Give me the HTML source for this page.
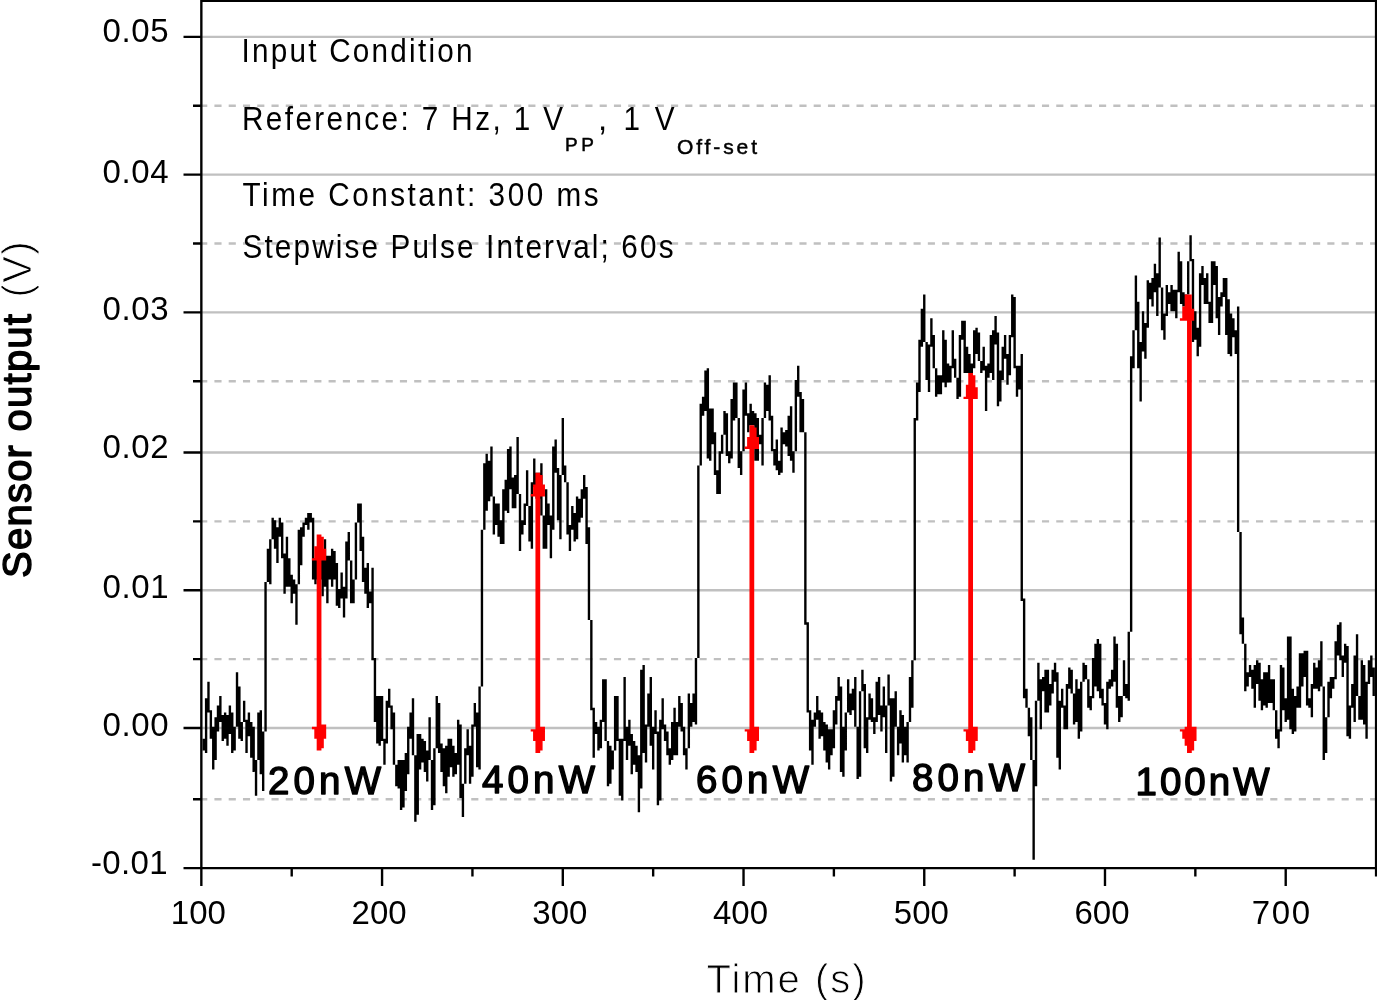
<!DOCTYPE html>
<html lang="en"><head><meta charset="utf-8"><title>Sensor output vs time</title>
<style>html,body{margin:0;padding:0;background:#fff}body{width:1377px;height:1000px;overflow:hidden}svg{display:block}text{font-family:"Liberation Sans",Arial,sans-serif;fill:#000}.b{stroke:#000;stroke-width:1.4px;stroke-linejoin:round}.t{stroke:#fff;stroke-width:.9px}.s{stroke:#000;stroke-width:.5px}</style>
</head><body>
<svg width="1377" height="1000" viewBox="0 0 1377 1000">
<rect width="1377" height="1000" fill="#fff"/>
<path fill="#c0c0c0" d="M200.16 35.63H1377.27V38.0H200.16ZM200.16 173.4H1377.27V175.77H200.16ZM200.16 311.16H1377.27V313.54H200.16ZM200.16 451.31H1377.27V453.68H200.16ZM200.16 589.07H1377.27V591.45H200.16ZM200.16 726.84H1377.27V729.22H200.16ZM200.16 104.51H207.29V106.89H200.16ZM214.42 104.51H221.56V106.89H214.42ZM228.69 104.51H235.83V106.89H228.69ZM242.96 104.51H250.09V106.89H242.96ZM257.23 104.51H264.36V106.89H257.23ZM271.5 104.51H278.63V106.89H271.5ZM285.76 104.51H292.9V106.89H285.76ZM300.03 104.51H307.17V106.89H300.03ZM314.3 104.51H321.43V106.89H314.3ZM328.57 104.51H335.7V106.89H328.57ZM342.84 104.51H349.97V106.89H342.84ZM357.1 104.51H364.24V106.89H357.1ZM371.37 104.51H378.51V106.89H371.37ZM385.64 104.51H392.77V106.89H385.64ZM399.91 104.51H407.04V106.89H399.91ZM414.18 104.51H421.31V106.89H414.18ZM428.44 104.51H435.58V106.89H428.44ZM442.71 104.51H449.85V106.89H442.71ZM456.98 104.51H464.11V106.89H456.98ZM471.25 104.51H478.38V106.89H471.25ZM485.52 104.51H492.65V106.89H485.52ZM499.78 104.51H506.92V106.89H499.78ZM514.05 104.51H521.19V106.89H514.05ZM528.32 104.51H535.45V106.89H528.32ZM542.59 104.51H549.72V106.89H542.59ZM556.86 104.51H563.99V106.89H556.86ZM571.12 104.51H578.26V106.89H571.12ZM585.39 104.51H592.53V106.89H585.39ZM599.66 104.51H606.79V106.89H599.66ZM613.93 104.51H621.06V106.89H613.93ZM628.2 104.51H635.33V106.89H628.2ZM642.46 104.51H649.6V106.89H642.46ZM656.73 104.51H663.87V106.89H656.73ZM671.0 104.51H678.13V106.89H671.0ZM685.27 104.51H692.4V106.89H685.27ZM699.54 104.51H706.67V106.89H699.54ZM713.8 104.51H720.94V106.89H713.8ZM728.07 104.51H735.21V106.89H728.07ZM742.34 104.51H749.47V106.89H742.34ZM756.61 104.51H763.74V106.89H756.61ZM770.88 104.51H778.01V106.89H770.88ZM785.14 104.51H792.28V106.89H785.14ZM799.41 104.51H806.55V106.89H799.41ZM813.68 104.51H820.81V106.89H813.68ZM827.95 104.51H835.08V106.89H827.95ZM842.22 104.51H849.35V106.89H842.22ZM856.48 104.51H863.62V106.89H856.48ZM870.75 104.51H877.89V106.89H870.75ZM885.02 104.51H892.15V106.89H885.02ZM899.29 104.51H906.42V106.89H899.29ZM913.56 104.51H920.69V106.89H913.56ZM927.82 104.51H934.96V106.89H927.82ZM942.09 104.51H949.23V106.89H942.09ZM956.36 104.51H963.49V106.89H956.36ZM970.63 104.51H977.76V106.89H970.63ZM984.9 104.51H992.03V106.89H984.9ZM999.16 104.51H1006.3V106.89H999.16ZM1013.43 104.51H1020.57V106.89H1013.43ZM1027.7 104.51H1034.83V106.89H1027.7ZM1041.97 104.51H1049.1V106.89H1041.97ZM1056.24 104.51H1063.37V106.89H1056.24ZM1070.5 104.51H1077.64V106.89H1070.5ZM1084.77 104.51H1091.91V106.89H1084.77ZM1099.04 104.51H1106.17V106.89H1099.04ZM1113.31 104.51H1120.44V106.89H1113.31ZM1127.58 104.51H1134.71V106.89H1127.58ZM1141.84 104.51H1148.98V106.89H1141.84ZM1156.11 104.51H1163.25V106.89H1156.11ZM1170.38 104.51H1177.51V106.89H1170.38ZM1184.65 104.51H1191.78V106.89H1184.65ZM1198.92 104.51H1206.05V106.89H1198.92ZM1213.18 104.51H1220.32V106.89H1213.18ZM1227.45 104.51H1234.59V106.89H1227.45ZM1241.72 104.51H1248.85V106.89H1241.72ZM1255.99 104.51H1263.12V106.89H1255.99ZM1270.26 104.51H1277.39V106.89H1270.26ZM1284.52 104.51H1291.66V106.89H1284.52ZM1298.79 104.51H1305.93V106.89H1298.79ZM1313.06 104.51H1320.19V106.89H1313.06ZM1327.33 104.51H1334.46V106.89H1327.33ZM1341.6 104.51H1348.73V106.89H1341.6ZM1355.86 104.51H1363.0V106.89H1355.86ZM1370.13 104.51H1377.27V106.89H1370.13ZM200.16 242.28H207.29V244.66H200.16ZM214.42 242.28H221.56V244.66H214.42ZM228.69 242.28H235.83V244.66H228.69ZM242.96 242.28H250.09V244.66H242.96ZM257.23 242.28H264.36V244.66H257.23ZM271.5 242.28H278.63V244.66H271.5ZM285.76 242.28H292.9V244.66H285.76ZM300.03 242.28H307.17V244.66H300.03ZM314.3 242.28H321.43V244.66H314.3ZM328.57 242.28H335.7V244.66H328.57ZM342.84 242.28H349.97V244.66H342.84ZM357.1 242.28H364.24V244.66H357.1ZM371.37 242.28H378.51V244.66H371.37ZM385.64 242.28H392.77V244.66H385.64ZM399.91 242.28H407.04V244.66H399.91ZM414.18 242.28H421.31V244.66H414.18ZM428.44 242.28H435.58V244.66H428.44ZM442.71 242.28H449.85V244.66H442.71ZM456.98 242.28H464.11V244.66H456.98ZM471.25 242.28H478.38V244.66H471.25ZM485.52 242.28H492.65V244.66H485.52ZM499.78 242.28H506.92V244.66H499.78ZM514.05 242.28H521.19V244.66H514.05ZM528.32 242.28H535.45V244.66H528.32ZM542.59 242.28H549.72V244.66H542.59ZM556.86 242.28H563.99V244.66H556.86ZM571.12 242.28H578.26V244.66H571.12ZM585.39 242.28H592.53V244.66H585.39ZM599.66 242.28H606.79V244.66H599.66ZM613.93 242.28H621.06V244.66H613.93ZM628.2 242.28H635.33V244.66H628.2ZM642.46 242.28H649.6V244.66H642.46ZM656.73 242.28H663.87V244.66H656.73ZM671.0 242.28H678.13V244.66H671.0ZM685.27 242.28H692.4V244.66H685.27ZM699.54 242.28H706.67V244.66H699.54ZM713.8 242.28H720.94V244.66H713.8ZM728.07 242.28H735.21V244.66H728.07ZM742.34 242.28H749.47V244.66H742.34ZM756.61 242.28H763.74V244.66H756.61ZM770.88 242.28H778.01V244.66H770.88ZM785.14 242.28H792.28V244.66H785.14ZM799.41 242.28H806.55V244.66H799.41ZM813.68 242.28H820.81V244.66H813.68ZM827.95 242.28H835.08V244.66H827.95ZM842.22 242.28H849.35V244.66H842.22ZM856.48 242.28H863.62V244.66H856.48ZM870.75 242.28H877.89V244.66H870.75ZM885.02 242.28H892.15V244.66H885.02ZM899.29 242.28H906.42V244.66H899.29ZM913.56 242.28H920.69V244.66H913.56ZM927.82 242.28H934.96V244.66H927.82ZM942.09 242.28H949.23V244.66H942.09ZM956.36 242.28H963.49V244.66H956.36ZM970.63 242.28H977.76V244.66H970.63ZM984.9 242.28H992.03V244.66H984.9ZM999.16 242.28H1006.3V244.66H999.16ZM1013.43 242.28H1020.57V244.66H1013.43ZM1027.7 242.28H1034.83V244.66H1027.7ZM1041.97 242.28H1049.1V244.66H1041.97ZM1056.24 242.28H1063.37V244.66H1056.24ZM1070.5 242.28H1077.64V244.66H1070.5ZM1084.77 242.28H1091.91V244.66H1084.77ZM1099.04 242.28H1106.17V244.66H1099.04ZM1113.31 242.28H1120.44V244.66H1113.31ZM1127.58 242.28H1134.71V244.66H1127.58ZM1141.84 242.28H1148.98V244.66H1141.84ZM1156.11 242.28H1163.25V244.66H1156.11ZM1170.38 242.28H1177.51V244.66H1170.38ZM1184.65 242.28H1191.78V244.66H1184.65ZM1198.92 242.28H1206.05V244.66H1198.92ZM1213.18 242.28H1220.32V244.66H1213.18ZM1227.45 242.28H1234.59V244.66H1227.45ZM1241.72 242.28H1248.85V244.66H1241.72ZM1255.99 242.28H1263.12V244.66H1255.99ZM1270.26 242.28H1277.39V244.66H1270.26ZM1284.52 242.28H1291.66V244.66H1284.52ZM1298.79 242.28H1305.93V244.66H1298.79ZM1313.06 242.28H1320.19V244.66H1313.06ZM1327.33 242.28H1334.46V244.66H1327.33ZM1341.6 242.28H1348.73V244.66H1341.6ZM1355.86 242.28H1363.0V244.66H1355.86ZM1370.13 242.28H1377.27V244.66H1370.13ZM200.16 380.05H207.29V382.42H200.16ZM214.42 380.05H221.56V382.42H214.42ZM228.69 380.05H235.83V382.42H228.69ZM242.96 380.05H250.09V382.42H242.96ZM257.23 380.05H264.36V382.42H257.23ZM271.5 380.05H278.63V382.42H271.5ZM285.76 380.05H292.9V382.42H285.76ZM300.03 380.05H307.17V382.42H300.03ZM314.3 380.05H321.43V382.42H314.3ZM328.57 380.05H335.7V382.42H328.57ZM342.84 380.05H349.97V382.42H342.84ZM357.1 380.05H364.24V382.42H357.1ZM371.37 380.05H378.51V382.42H371.37ZM385.64 380.05H392.77V382.42H385.64ZM399.91 380.05H407.04V382.42H399.91ZM414.18 380.05H421.31V382.42H414.18ZM428.44 380.05H435.58V382.42H428.44ZM442.71 380.05H449.85V382.42H442.71ZM456.98 380.05H464.11V382.42H456.98ZM471.25 380.05H478.38V382.42H471.25ZM485.52 380.05H492.65V382.42H485.52ZM499.78 380.05H506.92V382.42H499.78ZM514.05 380.05H521.19V382.42H514.05ZM528.32 380.05H535.45V382.42H528.32ZM542.59 380.05H549.72V382.42H542.59ZM556.86 380.05H563.99V382.42H556.86ZM571.12 380.05H578.26V382.42H571.12ZM585.39 380.05H592.53V382.42H585.39ZM599.66 380.05H606.79V382.42H599.66ZM613.93 380.05H621.06V382.42H613.93ZM628.2 380.05H635.33V382.42H628.2ZM642.46 380.05H649.6V382.42H642.46ZM656.73 380.05H663.87V382.42H656.73ZM671.0 380.05H678.13V382.42H671.0ZM685.27 380.05H692.4V382.42H685.27ZM699.54 380.05H706.67V382.42H699.54ZM713.8 380.05H720.94V382.42H713.8ZM728.07 380.05H735.21V382.42H728.07ZM742.34 380.05H749.47V382.42H742.34ZM756.61 380.05H763.74V382.42H756.61ZM770.88 380.05H778.01V382.42H770.88ZM785.14 380.05H792.28V382.42H785.14ZM799.41 380.05H806.55V382.42H799.41ZM813.68 380.05H820.81V382.42H813.68ZM827.95 380.05H835.08V382.42H827.95ZM842.22 380.05H849.35V382.42H842.22ZM856.48 380.05H863.62V382.42H856.48ZM870.75 380.05H877.89V382.42H870.75ZM885.02 380.05H892.15V382.42H885.02ZM899.29 380.05H906.42V382.42H899.29ZM913.56 380.05H920.69V382.42H913.56ZM927.82 380.05H934.96V382.42H927.82ZM942.09 380.05H949.23V382.42H942.09ZM956.36 380.05H963.49V382.42H956.36ZM970.63 380.05H977.76V382.42H970.63ZM984.9 380.05H992.03V382.42H984.9ZM999.16 380.05H1006.3V382.42H999.16ZM1013.43 380.05H1020.57V382.42H1013.43ZM1027.7 380.05H1034.83V382.42H1027.7ZM1041.97 380.05H1049.1V382.42H1041.97ZM1056.24 380.05H1063.37V382.42H1056.24ZM1070.5 380.05H1077.64V382.42H1070.5ZM1084.77 380.05H1091.91V382.42H1084.77ZM1099.04 380.05H1106.17V382.42H1099.04ZM1113.31 380.05H1120.44V382.42H1113.31ZM1127.58 380.05H1134.71V382.42H1127.58ZM1141.84 380.05H1148.98V382.42H1141.84ZM1156.11 380.05H1163.25V382.42H1156.11ZM1170.38 380.05H1177.51V382.42H1170.38ZM1184.65 380.05H1191.78V382.42H1184.65ZM1198.92 380.05H1206.05V382.42H1198.92ZM1213.18 380.05H1220.32V382.42H1213.18ZM1227.45 380.05H1234.59V382.42H1227.45ZM1241.72 380.05H1248.85V382.42H1241.72ZM1255.99 380.05H1263.12V382.42H1255.99ZM1270.26 380.05H1277.39V382.42H1270.26ZM1284.52 380.05H1291.66V382.42H1284.52ZM1298.79 380.05H1305.93V382.42H1298.79ZM1313.06 380.05H1320.19V382.42H1313.06ZM1327.33 380.05H1334.46V382.42H1327.33ZM1341.6 380.05H1348.73V382.42H1341.6ZM1355.86 380.05H1363.0V382.42H1355.86ZM1370.13 380.05H1377.27V382.42H1370.13ZM200.16 520.19H207.29V522.57H200.16ZM214.42 520.19H221.56V522.57H214.42ZM228.69 520.19H235.83V522.57H228.69ZM242.96 520.19H250.09V522.57H242.96ZM257.23 520.19H264.36V522.57H257.23ZM271.5 520.19H278.63V522.57H271.5ZM285.76 520.19H292.9V522.57H285.76ZM300.03 520.19H307.17V522.57H300.03ZM314.3 520.19H321.43V522.57H314.3ZM328.57 520.19H335.7V522.57H328.57ZM342.84 520.19H349.97V522.57H342.84ZM357.1 520.19H364.24V522.57H357.1ZM371.37 520.19H378.51V522.57H371.37ZM385.64 520.19H392.77V522.57H385.64ZM399.91 520.19H407.04V522.57H399.91ZM414.18 520.19H421.31V522.57H414.18ZM428.44 520.19H435.58V522.57H428.44ZM442.71 520.19H449.85V522.57H442.71ZM456.98 520.19H464.11V522.57H456.98ZM471.25 520.19H478.38V522.57H471.25ZM485.52 520.19H492.65V522.57H485.52ZM499.78 520.19H506.92V522.57H499.78ZM514.05 520.19H521.19V522.57H514.05ZM528.32 520.19H535.45V522.57H528.32ZM542.59 520.19H549.72V522.57H542.59ZM556.86 520.19H563.99V522.57H556.86ZM571.12 520.19H578.26V522.57H571.12ZM585.39 520.19H592.53V522.57H585.39ZM599.66 520.19H606.79V522.57H599.66ZM613.93 520.19H621.06V522.57H613.93ZM628.2 520.19H635.33V522.57H628.2ZM642.46 520.19H649.6V522.57H642.46ZM656.73 520.19H663.87V522.57H656.73ZM671.0 520.19H678.13V522.57H671.0ZM685.27 520.19H692.4V522.57H685.27ZM699.54 520.19H706.67V522.57H699.54ZM713.8 520.19H720.94V522.57H713.8ZM728.07 520.19H735.21V522.57H728.07ZM742.34 520.19H749.47V522.57H742.34ZM756.61 520.19H763.74V522.57H756.61ZM770.88 520.19H778.01V522.57H770.88ZM785.14 520.19H792.28V522.57H785.14ZM799.41 520.19H806.55V522.57H799.41ZM813.68 520.19H820.81V522.57H813.68ZM827.95 520.19H835.08V522.57H827.95ZM842.22 520.19H849.35V522.57H842.22ZM856.48 520.19H863.62V522.57H856.48ZM870.75 520.19H877.89V522.57H870.75ZM885.02 520.19H892.15V522.57H885.02ZM899.29 520.19H906.42V522.57H899.29ZM913.56 520.19H920.69V522.57H913.56ZM927.82 520.19H934.96V522.57H927.82ZM942.09 520.19H949.23V522.57H942.09ZM956.36 520.19H963.49V522.57H956.36ZM970.63 520.19H977.76V522.57H970.63ZM984.9 520.19H992.03V522.57H984.9ZM999.16 520.19H1006.3V522.57H999.16ZM1013.43 520.19H1020.57V522.57H1013.43ZM1027.7 520.19H1034.83V522.57H1027.7ZM1041.97 520.19H1049.1V522.57H1041.97ZM1056.24 520.19H1063.37V522.57H1056.24ZM1070.5 520.19H1077.64V522.57H1070.5ZM1084.77 520.19H1091.91V522.57H1084.77ZM1099.04 520.19H1106.17V522.57H1099.04ZM1113.31 520.19H1120.44V522.57H1113.31ZM1127.58 520.19H1134.71V522.57H1127.58ZM1141.84 520.19H1148.98V522.57H1141.84ZM1156.11 520.19H1163.25V522.57H1156.11ZM1170.38 520.19H1177.51V522.57H1170.38ZM1184.65 520.19H1191.78V522.57H1184.65ZM1198.92 520.19H1206.05V522.57H1198.92ZM1213.18 520.19H1220.32V522.57H1213.18ZM1227.45 520.19H1234.59V522.57H1227.45ZM1241.72 520.19H1248.85V522.57H1241.72ZM1255.99 520.19H1263.12V522.57H1255.99ZM1270.26 520.19H1277.39V522.57H1270.26ZM1284.52 520.19H1291.66V522.57H1284.52ZM1298.79 520.19H1305.93V522.57H1298.79ZM1313.06 520.19H1320.19V522.57H1313.06ZM1327.33 520.19H1334.46V522.57H1327.33ZM1341.6 520.19H1348.73V522.57H1341.6ZM1355.86 520.19H1363.0V522.57H1355.86ZM1370.13 520.19H1377.27V522.57H1370.13ZM200.16 657.96H207.29V660.33H200.16ZM214.42 657.96H221.56V660.33H214.42ZM228.69 657.96H235.83V660.33H228.69ZM242.96 657.96H250.09V660.33H242.96ZM257.23 657.96H264.36V660.33H257.23ZM271.5 657.96H278.63V660.33H271.5ZM285.76 657.96H292.9V660.33H285.76ZM300.03 657.96H307.17V660.33H300.03ZM314.3 657.96H321.43V660.33H314.3ZM328.57 657.96H335.7V660.33H328.57ZM342.84 657.96H349.97V660.33H342.84ZM357.1 657.96H364.24V660.33H357.1ZM371.37 657.96H378.51V660.33H371.37ZM385.64 657.96H392.77V660.33H385.64ZM399.91 657.96H407.04V660.33H399.91ZM414.18 657.96H421.31V660.33H414.18ZM428.44 657.96H435.58V660.33H428.44ZM442.71 657.96H449.85V660.33H442.71ZM456.98 657.96H464.11V660.33H456.98ZM471.25 657.96H478.38V660.33H471.25ZM485.52 657.96H492.65V660.33H485.52ZM499.78 657.96H506.92V660.33H499.78ZM514.05 657.96H521.19V660.33H514.05ZM528.32 657.96H535.45V660.33H528.32ZM542.59 657.96H549.72V660.33H542.59ZM556.86 657.96H563.99V660.33H556.86ZM571.12 657.96H578.26V660.33H571.12ZM585.39 657.96H592.53V660.33H585.39ZM599.66 657.96H606.79V660.33H599.66ZM613.93 657.96H621.06V660.33H613.93ZM628.2 657.96H635.33V660.33H628.2ZM642.46 657.96H649.6V660.33H642.46ZM656.73 657.96H663.87V660.33H656.73ZM671.0 657.96H678.13V660.33H671.0ZM685.27 657.96H692.4V660.33H685.27ZM699.54 657.96H706.67V660.33H699.54ZM713.8 657.96H720.94V660.33H713.8ZM728.07 657.96H735.21V660.33H728.07ZM742.34 657.96H749.47V660.33H742.34ZM756.61 657.96H763.74V660.33H756.61ZM770.88 657.96H778.01V660.33H770.88ZM785.14 657.96H792.28V660.33H785.14ZM799.41 657.96H806.55V660.33H799.41ZM813.68 657.96H820.81V660.33H813.68ZM827.95 657.96H835.08V660.33H827.95ZM842.22 657.96H849.35V660.33H842.22ZM856.48 657.96H863.62V660.33H856.48ZM870.75 657.96H877.89V660.33H870.75ZM885.02 657.96H892.15V660.33H885.02ZM899.29 657.96H906.42V660.33H899.29ZM913.56 657.96H920.69V660.33H913.56ZM927.82 657.96H934.96V660.33H927.82ZM942.09 657.96H949.23V660.33H942.09ZM956.36 657.96H963.49V660.33H956.36ZM970.63 657.96H977.76V660.33H970.63ZM984.9 657.96H992.03V660.33H984.9ZM999.16 657.96H1006.3V660.33H999.16ZM1013.43 657.96H1020.57V660.33H1013.43ZM1027.7 657.96H1034.83V660.33H1027.7ZM1041.97 657.96H1049.1V660.33H1041.97ZM1056.24 657.96H1063.37V660.33H1056.24ZM1070.5 657.96H1077.64V660.33H1070.5ZM1084.77 657.96H1091.91V660.33H1084.77ZM1099.04 657.96H1106.17V660.33H1099.04ZM1113.31 657.96H1120.44V660.33H1113.31ZM1127.58 657.96H1134.71V660.33H1127.58ZM1141.84 657.96H1148.98V660.33H1141.84ZM1156.11 657.96H1163.25V660.33H1156.11ZM1170.38 657.96H1177.51V660.33H1170.38ZM1184.65 657.96H1191.78V660.33H1184.65ZM1198.92 657.96H1206.05V660.33H1198.92ZM1213.18 657.96H1220.32V660.33H1213.18ZM1227.45 657.96H1234.59V660.33H1227.45ZM1241.72 657.96H1248.85V660.33H1241.72ZM1255.99 657.96H1263.12V660.33H1255.99ZM1270.26 657.96H1277.39V660.33H1270.26ZM1284.52 657.96H1291.66V660.33H1284.52ZM1298.79 657.96H1305.93V660.33H1298.79ZM1313.06 657.96H1320.19V660.33H1313.06ZM1327.33 657.96H1334.46V660.33H1327.33ZM1341.6 657.96H1348.73V660.33H1341.6ZM1355.86 657.96H1363.0V660.33H1355.86ZM1370.13 657.96H1377.27V660.33H1370.13ZM200.16 798.1H207.29V800.48H200.16ZM214.42 798.1H221.56V800.48H214.42ZM228.69 798.1H235.83V800.48H228.69ZM242.96 798.1H250.09V800.48H242.96ZM257.23 798.1H264.36V800.48H257.23ZM271.5 798.1H278.63V800.48H271.5ZM285.76 798.1H292.9V800.48H285.76ZM300.03 798.1H307.17V800.48H300.03ZM314.3 798.1H321.43V800.48H314.3ZM328.57 798.1H335.7V800.48H328.57ZM342.84 798.1H349.97V800.48H342.84ZM357.1 798.1H364.24V800.48H357.1ZM371.37 798.1H378.51V800.48H371.37ZM385.64 798.1H392.77V800.48H385.64ZM399.91 798.1H407.04V800.48H399.91ZM414.18 798.1H421.31V800.48H414.18ZM428.44 798.1H435.58V800.48H428.44ZM442.71 798.1H449.85V800.48H442.71ZM456.98 798.1H464.11V800.48H456.98ZM471.25 798.1H478.38V800.48H471.25ZM485.52 798.1H492.65V800.48H485.52ZM499.78 798.1H506.92V800.48H499.78ZM514.05 798.1H521.19V800.48H514.05ZM528.32 798.1H535.45V800.48H528.32ZM542.59 798.1H549.72V800.48H542.59ZM556.86 798.1H563.99V800.48H556.86ZM571.12 798.1H578.26V800.48H571.12ZM585.39 798.1H592.53V800.48H585.39ZM599.66 798.1H606.79V800.48H599.66ZM613.93 798.1H621.06V800.48H613.93ZM628.2 798.1H635.33V800.48H628.2ZM642.46 798.1H649.6V800.48H642.46ZM656.73 798.1H663.87V800.48H656.73ZM671.0 798.1H678.13V800.48H671.0ZM685.27 798.1H692.4V800.48H685.27ZM699.54 798.1H706.67V800.48H699.54ZM713.8 798.1H720.94V800.48H713.8ZM728.07 798.1H735.21V800.48H728.07ZM742.34 798.1H749.47V800.48H742.34ZM756.61 798.1H763.74V800.48H756.61ZM770.88 798.1H778.01V800.48H770.88ZM785.14 798.1H792.28V800.48H785.14ZM799.41 798.1H806.55V800.48H799.41ZM813.68 798.1H820.81V800.48H813.68ZM827.95 798.1H835.08V800.48H827.95ZM842.22 798.1H849.35V800.48H842.22ZM856.48 798.1H863.62V800.48H856.48ZM870.75 798.1H877.89V800.48H870.75ZM885.02 798.1H892.15V800.48H885.02ZM899.29 798.1H906.42V800.48H899.29ZM913.56 798.1H920.69V800.48H913.56ZM927.82 798.1H934.96V800.48H927.82ZM942.09 798.1H949.23V800.48H942.09ZM956.36 798.1H963.49V800.48H956.36ZM970.63 798.1H977.76V800.48H970.63ZM984.9 798.1H992.03V800.48H984.9ZM999.16 798.1H1006.3V800.48H999.16ZM1013.43 798.1H1020.57V800.48H1013.43ZM1027.7 798.1H1034.83V800.48H1027.7ZM1041.97 798.1H1049.1V800.48H1041.97ZM1056.24 798.1H1063.37V800.48H1056.24ZM1070.5 798.1H1077.64V800.48H1070.5ZM1084.77 798.1H1091.91V800.48H1084.77ZM1099.04 798.1H1106.17V800.48H1099.04ZM1113.31 798.1H1120.44V800.48H1113.31ZM1127.58 798.1H1134.71V800.48H1127.58ZM1141.84 798.1H1148.98V800.48H1141.84ZM1156.11 798.1H1163.25V800.48H1156.11ZM1170.38 798.1H1177.51V800.48H1170.38ZM1184.65 798.1H1191.78V800.48H1184.65ZM1198.92 798.1H1206.05V800.48H1198.92ZM1213.18 798.1H1220.32V800.48H1213.18ZM1227.45 798.1H1234.59V800.48H1227.45ZM1241.72 798.1H1248.85V800.48H1241.72ZM1255.99 798.1H1263.12V800.48H1255.99ZM1270.26 798.1H1277.39V800.48H1270.26ZM1284.52 798.1H1291.66V800.48H1284.52ZM1298.79 798.1H1305.93V800.48H1298.79ZM1313.06 798.1H1320.19V800.48H1313.06ZM1327.33 798.1H1334.46V800.48H1327.33ZM1341.6 798.1H1348.73V800.48H1341.6ZM1355.86 798.1H1363.0V800.48H1355.86ZM1370.13 798.1H1377.27V800.48H1370.13Z"/>
<path fill="#000" d="M202.53 738.72H204.91V750.59H202.53ZM204.91 698.34H207.29V752.97H204.91ZM207.29 681.71H209.67V712.59H207.29ZM209.67 710.21H212.05V738.72H209.67ZM212.05 726.84H214.42V769.6H212.05ZM214.42 717.34H216.8V760.1H214.42ZM216.8 705.46H219.18V731.59H216.8ZM219.18 695.96H221.56V722.09H219.18ZM221.56 714.97H223.94V741.09H221.56ZM223.94 712.59H226.31V738.72H223.94ZM226.31 714.97H228.69V745.84H226.31ZM228.69 705.46H231.07V733.97H228.69ZM231.07 712.59H233.45V752.97H231.07ZM233.45 726.84H235.83V750.59H233.45ZM235.83 672.21H238.2V726.84H235.83ZM238.2 686.46H240.58V738.72H238.2ZM240.58 722.09H242.96V741.09H240.58ZM242.96 700.71H245.34V722.09H242.96ZM245.34 719.72H247.72V752.97H245.34ZM247.72 712.59H250.09V736.34H247.72ZM250.09 722.09H252.47V757.72H250.09ZM252.47 726.84H254.85V771.97H252.47ZM254.85 760.1H257.23V795.73H254.85ZM257.23 712.59H259.61V760.1H257.23ZM259.61 710.21H261.98V774.35H259.61ZM261.98 731.59H264.36V790.97H261.98ZM264.36 581.95H266.74V731.59H264.36ZM266.74 548.69H269.12V581.95H266.74ZM269.12 539.19H271.5V584.32H269.12ZM271.5 517.82H273.87V539.19H271.5ZM273.87 520.19H276.25V548.69H273.87ZM276.25 527.32H278.63V562.95H276.25ZM278.63 517.82H281.01V536.82H278.63ZM281.01 522.57H283.39V558.2H281.01ZM283.39 553.44H285.76V593.83H283.39ZM285.76 536.82H288.14V586.7H285.76ZM288.14 558.2H290.52V586.7H288.14ZM290.52 574.82H292.9V603.33H290.52ZM292.9 579.57H295.28V593.83H292.9ZM295.28 584.32H297.65V624.7H295.28ZM297.65 529.69H300.03V584.32H297.65ZM300.03 527.32H302.41V565.32H300.03ZM302.41 522.57H304.79V536.82H302.41ZM304.79 517.82H307.17V524.94H304.79ZM307.17 513.06H309.54V529.69H307.17ZM309.54 513.06H311.92V522.57H309.54ZM311.92 517.82H314.3V579.57H311.92ZM314.3 558.2H316.68V584.32H314.3ZM316.68 553.44H319.06V579.57H316.68ZM319.06 553.44H321.43V579.57H319.06ZM321.43 558.2H323.81V596.2H321.43ZM323.81 539.19H326.19V586.7H323.81ZM326.19 555.82H328.57V603.33H326.19ZM328.57 555.82H330.95V579.57H328.57ZM330.95 548.69H333.32V586.7H330.95ZM333.32 551.07H335.7V579.57H333.32ZM335.7 562.95H338.08V605.7H335.7ZM338.08 589.07H340.46V608.08H338.08ZM340.46 572.45H342.84V598.58H340.46ZM342.84 586.7H345.21V617.58H342.84ZM345.21 541.57H347.59V598.58H345.21ZM347.59 532.07H349.97V560.57H347.59ZM349.97 560.57H352.35V603.33H349.97ZM352.35 579.57H354.73V603.33H352.35ZM354.73 522.57H357.1V579.57H354.73ZM357.1 503.56H359.48V522.57H357.1ZM359.48 503.56H361.86V551.07H359.48ZM361.86 536.82H364.24V581.95H361.86ZM364.24 567.7H366.62V593.83H364.24ZM366.62 562.95H368.99V608.08H366.62ZM368.99 591.45H371.37V603.33H368.99ZM371.37 567.7H373.75V660.33H371.37ZM373.75 657.96H376.13V722.09H373.75ZM376.13 695.96H378.51V743.47H376.13ZM378.51 695.96H380.88V745.84H378.51ZM380.88 695.96H383.26V741.09H380.88ZM383.26 738.72H385.64V764.85H383.26ZM385.64 700.71H388.02V743.47H385.64ZM388.02 688.84H390.4V707.84H388.02ZM390.4 705.46H392.77V729.22H390.4ZM392.77 712.59H395.15V764.85H392.77ZM395.15 764.85H397.53V786.22H395.15ZM397.53 760.1H399.91V788.6H397.53ZM399.91 760.1H402.29V809.98H399.91ZM402.29 760.1H404.66V807.6H402.29ZM404.66 752.97H407.04V790.97H404.66ZM407.04 726.84H409.42V774.35H407.04ZM409.42 712.59H411.8V738.72H409.42ZM411.8 698.34H414.18V755.35H411.8ZM414.18 755.35H416.55V821.85H414.18ZM416.55 733.97H418.93V814.73H416.55ZM418.93 733.97H421.31V769.6H418.93ZM421.31 738.72H423.69V762.47H421.31ZM423.69 741.09H426.07V771.97H423.69ZM426.07 750.59H428.44V781.47H426.07ZM428.44 717.34H430.82V760.1H428.44ZM430.82 760.1H433.2V809.98H430.82ZM433.2 748.22H435.58V805.23H433.2ZM435.58 695.96H437.96V748.22H435.58ZM437.96 703.09H440.33V752.97H437.96ZM440.33 743.47H442.71V771.97H440.33ZM442.71 748.22H445.09V786.22H442.71ZM445.09 745.84H447.47V793.35H445.09ZM447.47 738.72H449.85V776.72H447.47ZM449.85 738.72H452.22V767.22H449.85ZM452.22 745.84H454.6V776.72H452.22ZM454.6 752.97H456.98V774.35H454.6ZM456.98 719.72H459.36V764.85H456.98ZM459.36 724.47H461.74V798.1H459.36ZM461.74 783.85H464.11V817.1H461.74ZM464.11 748.22H466.49V783.85H464.11ZM466.49 729.22H468.87V755.35H466.49ZM468.87 745.84H471.25V783.85H468.87ZM471.25 724.47H473.63V776.72H471.25ZM473.63 703.09H476.0V726.84H473.63ZM476.0 712.59H478.38V767.22H476.0ZM478.38 686.46H480.76V769.6H478.38ZM480.76 529.69H483.14V686.46H480.76ZM483.14 463.18H485.52V529.69H483.14ZM485.52 453.68H487.89V510.69H485.52ZM487.89 460.81H490.27V501.19H487.89ZM490.27 446.56H492.65V496.44H490.27ZM492.65 496.44H495.03V534.44H492.65ZM495.03 503.56H497.41V524.94H495.03ZM497.41 503.56H499.78V536.82H497.41ZM499.78 520.19H502.16V543.94H499.78ZM502.16 489.31H504.54V543.94H502.16ZM504.54 479.81H506.92V510.69H504.54ZM506.92 448.93H509.3V513.06H506.92ZM509.3 446.56H511.67V489.31H509.3ZM511.67 477.44H514.05V508.31H511.67ZM514.05 475.06H516.43V508.31H514.05ZM516.43 437.06H518.81V494.06H516.43ZM518.81 494.06H521.19V551.07H518.81ZM521.19 520.19H523.56V534.44H521.19ZM523.56 503.56H525.94V524.94H523.56ZM525.94 470.31H528.32V505.94H525.94ZM528.32 505.94H530.7V541.57H528.32ZM530.7 482.19H533.08V548.69H530.7ZM533.08 458.43H535.45V486.94H533.08ZM535.45 472.68H537.83V498.81H535.45ZM537.83 472.68H540.21V498.81H537.83ZM540.21 463.18H542.59V515.44H540.21ZM542.59 515.44H544.97V548.69H542.59ZM544.97 489.31H547.34V548.69H544.97ZM547.34 503.56H549.72V524.94H547.34ZM549.72 515.44H552.1V558.2H549.72ZM552.1 446.56H554.48V529.69H552.1ZM554.48 439.43H556.86V472.68H554.48ZM556.86 467.93H559.23V520.19H556.86ZM559.23 475.06H561.61V539.19H559.23ZM561.61 418.05H563.99V475.06H561.61ZM563.99 465.56H566.37V482.19H563.99ZM566.37 482.19H568.75V534.44H566.37ZM568.75 524.94H571.12V551.07H568.75ZM571.12 505.94H573.5V529.69H571.12ZM573.5 513.06H575.88V541.57H573.5ZM575.88 496.44H578.26V539.19H575.88ZM578.26 498.81H580.64V522.57H578.26ZM580.64 489.31H583.01V517.82H580.64ZM583.01 475.06H585.39V498.81H583.01ZM585.39 486.94H587.77V543.94H585.39ZM587.77 527.32H590.15V619.95H587.77ZM590.15 619.95H592.53V710.21H590.15ZM592.53 707.84H594.9V757.72H592.53ZM594.9 722.09H597.28V733.97H594.9ZM597.28 726.84H599.66V750.59H597.28ZM599.66 719.72H602.04V748.22H599.66ZM602.04 679.34H604.42V722.09H602.04ZM604.42 679.34H606.79V741.09H604.42ZM606.79 741.09H609.17V786.22H606.79ZM609.17 745.84H611.55V783.85H609.17ZM611.55 750.59H613.93V769.6H611.55ZM613.93 695.96H616.31V750.59H613.93ZM616.31 695.96H618.68V741.09H616.31ZM618.68 738.72H621.06V795.73H618.68ZM621.06 738.72H623.44V800.48H621.06ZM623.44 676.96H625.82V741.09H623.44ZM625.82 726.84H628.2V760.1H625.82ZM628.2 719.72H630.57V745.84H628.2ZM630.57 733.97H632.95V774.35H630.57ZM632.95 741.09H635.33V764.85H632.95ZM635.33 745.84H637.71V771.97H635.33ZM637.71 755.35H640.09V812.35H637.71ZM640.09 669.83H642.46V788.6H640.09ZM642.46 665.08H644.84V752.97H642.46ZM644.84 724.47H647.22V762.47H644.84ZM647.22 693.59H649.6V726.84H647.22ZM649.6 676.96H651.98V745.84H649.6ZM651.98 726.84H654.35V769.6H651.98ZM654.35 710.21H656.73V733.97H654.35ZM656.73 731.59H659.11V805.23H656.73ZM659.11 719.72H661.49V800.48H659.11ZM661.49 698.34H663.87V729.22H661.49ZM663.87 724.47H666.24V741.09H663.87ZM666.24 731.59H668.62V755.35H666.24ZM668.62 748.22H671.0V764.85H668.62ZM671.0 722.09H673.38V760.1H671.0ZM673.38 707.84H675.76V755.35H673.38ZM675.76 722.09H678.13V755.35H675.76ZM678.13 695.96H680.51V726.84H678.13ZM680.51 703.09H682.89V731.59H680.51ZM682.89 726.84H685.27V755.35H682.89ZM685.27 748.22H687.65V769.6H685.27ZM687.65 693.59H690.02V748.22H687.65ZM690.02 703.09H692.4V726.84H690.02ZM692.4 693.59H694.78V722.09H692.4ZM694.78 657.96H697.16V724.47H694.78ZM697.16 465.56H699.54V657.96H697.16ZM699.54 403.8H701.91V465.56H699.54ZM701.91 396.68H704.29V415.68H701.91ZM704.29 370.55H706.67V410.93H704.29ZM706.67 368.17H709.05V458.43H706.67ZM709.05 408.55H711.43V460.81H709.05ZM711.43 408.55H713.8V444.18H711.43ZM713.8 432.3H716.18V475.06H713.8ZM716.18 470.31H718.56V494.06H716.18ZM718.56 451.31H720.94V494.06H718.56ZM720.94 434.68H723.32V453.68H720.94ZM723.32 410.93H725.69V434.68H723.32ZM725.69 413.3H728.07V456.06H725.69ZM728.07 451.31H730.45V463.18H728.07ZM730.45 399.05H732.83V458.43H730.45ZM732.83 382.42H735.21V420.43H732.83ZM735.21 382.42H737.58V418.05H735.21ZM737.58 418.05H739.96V467.93H737.58ZM739.96 451.31H742.34V475.06H739.96ZM742.34 389.55H744.72V451.31H742.34ZM744.72 382.42H747.1V415.68H744.72ZM747.1 413.3H749.47V432.3H747.1ZM749.47 403.8H751.85V425.18H749.47ZM751.85 410.93H754.23V425.18H751.85ZM754.23 413.3H756.61V460.81H754.23ZM756.61 418.05H758.99V460.81H756.61ZM758.99 434.68H761.36V444.18H758.99ZM761.36 418.05H763.74V465.56H761.36ZM763.74 382.42H766.12V418.05H763.74ZM766.12 384.8H768.5V410.93H766.12ZM768.5 375.3H770.88V420.43H768.5ZM770.88 415.68H773.25V451.31H770.88ZM773.25 448.93H775.63V465.56H773.25ZM775.63 439.43H778.01V470.31H775.63ZM778.01 460.81H780.39V475.06H778.01ZM780.39 427.55H782.77V472.68H780.39ZM782.77 432.3H785.14V444.18H782.77ZM785.14 429.93H787.52V446.56H785.14ZM787.52 415.68H789.9V456.06H787.52ZM789.9 406.18H792.28V460.81H789.9ZM792.28 451.31H794.66V472.68H792.28ZM794.66 380.05H797.03V451.31H794.66ZM797.03 365.8H799.41V396.68H797.03ZM799.41 391.92H801.79V432.3H799.41ZM801.79 399.05H804.17V432.3H801.79ZM804.17 432.3H806.55V624.7H804.17ZM806.55 622.33H808.92V712.59H806.55ZM808.92 710.21H811.3V750.59H808.92ZM811.3 719.72H813.68V764.85H811.3ZM813.68 712.59H816.06V726.84H813.68ZM816.06 695.96H818.44V719.72H816.06ZM818.44 710.21H820.81V738.72H818.44ZM820.81 712.59H823.19V736.34H820.81ZM823.19 722.09H825.57V750.59H823.19ZM825.57 724.47H827.95V762.47H825.57ZM827.95 729.22H830.33V769.6H827.95ZM830.33 729.22H832.7V755.35H830.33ZM832.7 710.21H835.08V748.22H832.7ZM835.08 695.96H837.46V724.47H835.08ZM837.46 676.96H839.84V700.71H837.46ZM839.84 686.46H842.22V771.97H839.84ZM842.22 726.84H844.59V776.72H842.22ZM844.59 712.59H846.97V750.59H844.59ZM846.97 679.34H849.35V712.59H846.97ZM849.35 693.59H851.73V714.97H849.35ZM851.73 688.84H854.11V710.21H851.73ZM854.11 676.96H856.48V726.84H854.11ZM856.48 726.84H858.86V779.1H856.48ZM858.86 691.21H861.24V776.72H858.86ZM861.24 669.83H863.62V691.21H861.24ZM863.62 684.09H866.0V748.22H863.62ZM866.0 717.34H868.37V752.97H866.0ZM868.37 693.59H870.75V719.72H868.37ZM870.75 698.34H873.13V722.09H870.75ZM873.13 717.34H875.51V733.97H873.13ZM875.51 681.71H877.89V722.09H875.51ZM877.89 676.96H880.26V714.97H877.89ZM880.26 705.46H882.64V731.59H880.26ZM882.64 686.46H885.02V717.34H882.64ZM885.02 705.46H887.4V752.97H885.02ZM887.4 674.59H889.78V705.46H887.4ZM889.78 698.34H892.15V781.47H889.78ZM892.15 698.34H894.53V776.72H892.15ZM894.53 691.21H896.91V726.84H894.53ZM896.91 726.84H899.29V755.35H896.91ZM899.29 710.21H901.67V743.47H899.29ZM901.67 714.97H904.04V762.47H901.67ZM904.04 726.84H906.42V755.35H904.04ZM906.42 722.09H908.8V762.47H906.42ZM908.8 676.96H911.18V722.09H908.8ZM911.18 660.33H913.56V707.84H911.18ZM913.56 418.05H915.93V660.33H913.56ZM915.93 382.42H918.31V420.43H915.93ZM918.31 339.67H920.69V391.92H918.31ZM920.69 308.79H923.07V346.79H920.69ZM923.07 294.54H925.45V342.04H923.07ZM925.45 342.04H927.82V380.05H925.45ZM927.82 344.42H930.2V391.92H927.82ZM930.2 318.29H932.58V346.79H930.2ZM932.58 334.92H934.96V368.17H932.58ZM934.96 368.17H937.34V396.68H934.96ZM937.34 375.3H939.71V394.3H937.34ZM939.71 375.3H942.09V394.3H939.71ZM942.09 330.17H944.47V382.42H942.09ZM944.47 339.67H946.85V387.17H944.47ZM946.85 363.42H949.23V382.42H946.85ZM949.23 365.8H951.6V382.42H949.23ZM951.6 330.17H953.98V368.17H951.6ZM953.98 358.67H956.36V377.67H953.98ZM956.36 377.67H958.74V399.05H956.36ZM958.74 334.92H961.12V396.68H958.74ZM961.12 320.67H963.49V339.67H961.12ZM963.49 320.67H965.87V372.92H963.49ZM965.87 346.79H968.25V372.92H965.87ZM968.25 353.92H970.63V372.92H968.25ZM970.63 363.42H973.01V372.92H970.63ZM973.01 330.17H975.38V368.17H973.01ZM975.38 327.79H977.76V353.92H975.38ZM977.76 332.54H980.14V361.05H977.76ZM980.14 361.05H982.52V372.92H980.14ZM982.52 346.79H984.9V370.55H982.52ZM984.9 365.8H987.27V410.93H984.9ZM987.27 363.42H989.65V377.67H987.27ZM989.65 334.92H992.03V372.92H989.65ZM992.03 330.17H994.41V380.05H992.03ZM994.41 315.91H996.79V344.42H994.41ZM996.79 332.54H999.16V406.18H996.79ZM999.16 370.55H1001.54V401.43H999.16ZM1001.54 346.79H1003.92V380.05H1001.54ZM1003.92 334.92H1006.3V358.67H1003.92ZM1006.3 353.92H1008.68V384.8H1006.3ZM1008.68 334.92H1011.05V375.3H1008.68ZM1011.05 294.54H1013.43V337.29H1011.05ZM1013.43 296.91H1015.81V368.17H1013.43ZM1015.81 365.8H1018.19V396.68H1015.81ZM1018.19 365.8H1020.57V389.55H1018.19ZM1020.57 353.92H1022.94V600.95H1020.57ZM1022.94 598.58H1025.32V698.34H1022.94ZM1025.32 688.84H1027.7V707.84H1025.32ZM1027.7 707.84H1030.08V736.34H1027.7ZM1030.08 717.34H1032.46V760.1H1030.08ZM1032.46 760.1H1034.83V859.86H1032.46ZM1034.83 700.71H1037.21V786.22H1034.83ZM1037.21 662.71H1039.59V700.71H1037.21ZM1039.59 679.34H1041.97V729.22H1039.59ZM1041.97 676.96H1044.35V691.21H1041.97ZM1044.35 669.83H1046.72V712.59H1044.35ZM1046.72 669.83H1049.1V712.59H1046.72ZM1049.1 684.09H1051.48V705.46H1049.1ZM1051.48 669.83H1053.86V693.59H1051.48ZM1053.86 662.71H1056.24V681.71H1053.86ZM1056.24 672.21H1058.61V757.72H1056.24ZM1058.61 700.71H1060.99V769.6H1058.61ZM1060.99 688.84H1063.37V707.84H1060.99ZM1063.37 705.46H1065.75V729.22H1063.37ZM1065.75 684.09H1068.13V729.22H1065.75ZM1068.13 667.46H1070.5V688.84H1068.13ZM1070.5 669.83H1072.88V693.59H1070.5ZM1072.88 693.59H1075.26V724.47H1072.88ZM1075.26 679.34H1077.64V722.09H1075.26ZM1077.64 688.84H1080.02V738.72H1077.64ZM1080.02 681.71H1082.39V731.59H1080.02ZM1082.39 662.71H1084.77V681.71H1082.39ZM1084.77 665.08H1087.15V679.34H1084.77ZM1087.15 679.34H1089.53V707.84H1087.15ZM1089.53 695.96H1091.91V710.21H1089.53ZM1091.91 657.96H1094.28V698.34H1091.91ZM1094.28 643.71H1096.66V686.46H1094.28ZM1096.66 638.96H1099.04V691.21H1096.66ZM1099.04 643.71H1101.42V698.34H1099.04ZM1101.42 688.84H1103.8V705.46H1101.42ZM1103.8 703.09H1106.17V724.47H1103.8ZM1106.17 681.71H1108.55V729.22H1106.17ZM1108.55 679.34H1110.93V688.84H1108.55ZM1110.93 669.83H1113.31V686.46H1110.93ZM1113.31 636.58H1115.69V681.71H1113.31ZM1115.69 643.71H1118.06V707.84H1115.69ZM1118.06 695.96H1120.44V722.09H1118.06ZM1120.44 695.96H1122.82V717.34H1120.44ZM1122.82 660.33H1125.2V695.96H1122.82ZM1125.2 684.09H1127.58V698.34H1125.2ZM1127.58 631.83H1129.95V700.71H1127.58ZM1129.95 356.3H1132.33V631.83H1129.95ZM1132.33 330.17H1134.71V368.17H1132.33ZM1134.71 275.53H1137.09V330.17H1134.71ZM1137.09 301.66H1139.47V368.17H1137.09ZM1139.47 342.04H1141.84V401.43H1139.47ZM1141.84 311.16H1144.22V351.54H1141.84ZM1144.22 323.04H1146.6V358.67H1144.22ZM1146.6 280.29H1148.98V327.79H1146.6ZM1148.98 282.66H1151.36V299.29H1148.98ZM1151.36 277.91H1153.73V306.41H1151.36ZM1153.73 263.66H1156.11V292.16H1153.73ZM1156.11 273.16H1158.49V315.91H1156.11ZM1158.49 237.53H1160.87V287.41H1158.49ZM1160.87 287.41H1163.25V330.17H1160.87ZM1163.25 313.54H1165.62V339.67H1163.25ZM1165.62 285.04H1168.0V315.91H1165.62ZM1168.0 292.16H1170.38V304.04H1168.0ZM1170.38 285.04H1172.76V311.16H1170.38ZM1172.76 289.79H1175.14V311.16H1172.76ZM1175.14 289.79H1177.51V318.29H1175.14ZM1177.51 251.78H1179.89V292.16H1177.51ZM1179.89 261.28H1182.27V304.04H1179.89ZM1182.27 292.16H1184.65V306.41H1182.27ZM1184.65 294.54H1187.03V306.41H1184.65ZM1187.03 261.28H1189.4V294.54H1187.03ZM1189.4 235.15H1191.78V261.28H1189.4ZM1191.78 258.91H1194.16V342.04H1191.78ZM1194.16 311.16H1196.54V339.67H1194.16ZM1196.54 327.79H1198.92V356.3H1196.54ZM1198.92 273.16H1201.29V346.79H1198.92ZM1201.29 266.03H1203.67V285.04H1201.29ZM1203.67 277.91H1206.05V304.04H1203.67ZM1206.05 273.16H1208.43V304.04H1206.05ZM1208.43 301.66H1210.81V323.04H1208.43ZM1210.81 261.28H1213.18V323.04H1210.81ZM1213.18 261.28H1215.56V285.04H1213.18ZM1215.56 266.03H1217.94V318.29H1215.56ZM1217.94 296.91H1220.32V334.92H1217.94ZM1220.32 292.16H1222.7V306.41H1220.32ZM1222.7 277.91H1225.07V296.91H1222.7ZM1225.07 277.91H1227.45V334.92H1225.07ZM1227.45 299.29H1229.83V353.92H1227.45ZM1229.83 313.54H1232.21V356.3H1229.83ZM1232.21 318.29H1234.59V337.29H1232.21ZM1234.59 330.17H1236.96V353.92H1234.59ZM1236.96 306.41H1239.34V532.07H1236.96ZM1239.34 532.07H1241.72V634.21H1239.34ZM1241.72 617.58H1244.1V643.71H1241.72ZM1244.1 643.71H1246.48V691.21H1244.1ZM1246.48 672.21H1248.85V686.46H1246.48ZM1248.85 665.08H1251.23V676.96H1248.85ZM1251.23 669.83H1253.61V688.84H1251.23ZM1253.61 665.08H1255.99V707.84H1253.61ZM1255.99 660.33H1258.37V684.09H1255.99ZM1258.37 662.71H1260.74V700.71H1258.37ZM1260.74 679.34H1263.12V710.21H1260.74ZM1263.12 672.21H1265.5V705.46H1263.12ZM1265.5 672.21H1267.88V707.84H1265.5ZM1267.88 665.08H1270.26V703.09H1267.88ZM1270.26 679.34H1272.63V703.09H1270.26ZM1272.63 679.34H1275.01V710.21H1272.63ZM1275.01 710.21H1277.39V738.72H1275.01ZM1277.39 729.22H1279.77V748.22H1277.39ZM1279.77 665.08H1282.15V731.59H1279.77ZM1282.15 667.46H1284.52V710.21H1282.15ZM1284.52 698.34H1286.9V722.09H1284.52ZM1286.9 636.58H1289.28V719.72H1286.9ZM1289.28 636.58H1291.66V729.22H1289.28ZM1291.66 688.84H1294.04V733.97H1291.66ZM1294.04 695.96H1296.41V731.59H1294.04ZM1296.41 686.46H1298.79V707.84H1296.41ZM1298.79 653.21H1301.17V707.84H1298.79ZM1301.17 653.21H1303.55V686.46H1301.17ZM1303.55 650.83H1305.93V676.96H1303.55ZM1305.93 650.83H1308.3V705.46H1305.93ZM1308.3 698.34H1310.68V707.84H1308.3ZM1310.68 684.09H1313.06V717.34H1310.68ZM1313.06 662.71H1315.44V688.84H1313.06ZM1315.44 667.46H1317.82V688.84H1315.44ZM1317.82 660.33H1320.19V691.21H1317.82ZM1320.19 641.33H1322.57V686.46H1320.19ZM1322.57 686.46H1324.95V760.1H1322.57ZM1324.95 717.34H1327.33V752.97H1324.95ZM1327.33 681.71H1329.71V717.34H1327.33ZM1329.71 676.96H1332.08V698.34H1329.71ZM1332.08 676.96H1334.46V688.84H1332.08ZM1334.46 641.33H1336.84V679.34H1334.46ZM1336.84 624.7H1339.22V655.58H1336.84ZM1339.22 622.33H1341.6V660.33H1339.22ZM1341.6 655.58H1343.97V676.96H1341.6ZM1343.97 643.71H1346.35V662.71H1343.97ZM1346.35 646.08H1348.73V736.34H1346.35ZM1348.73 705.46H1351.11V738.72H1348.73ZM1351.11 684.09H1353.49V707.84H1351.11ZM1353.49 655.58H1355.86V722.09H1353.49ZM1355.86 634.21H1358.24V695.96H1355.86ZM1358.24 695.96H1360.62V719.72H1358.24ZM1360.62 660.33H1363.0V719.72H1360.62ZM1363.0 665.08H1365.38V724.47H1363.0ZM1365.38 681.71H1367.75V738.72H1365.38ZM1367.75 660.33H1370.13V684.09H1367.75ZM1370.13 655.58H1372.51V676.96H1370.13ZM1372.51 667.46H1374.89V695.96H1372.51Z"/>
<path fill="#f00" d="M316.68 534.44H321.43V750.59H316.68ZM311.92 558.2H314.3V560.57H311.92ZM314.3 546.32H316.68V560.57H314.3ZM321.43 536.82H323.81V560.57H321.43ZM323.81 548.69H326.19V560.57H323.81ZM311.92 726.84H314.3V729.22H311.92ZM314.3 726.84H316.68V738.72H314.3ZM321.43 724.47H323.81V748.22H321.43ZM323.81 724.47H326.19V738.72H323.81ZM535.45 472.68H540.21V752.97H535.45ZM530.7 494.06H533.08V496.44H530.7ZM533.08 484.56H535.45V496.44H533.08ZM540.21 475.06H542.59V496.44H540.21ZM542.59 484.56H544.97V496.44H542.59ZM530.7 729.22H533.08V731.59H530.7ZM533.08 729.22H535.45V741.09H533.08ZM540.21 726.84H542.59V750.59H540.21ZM542.59 726.84H544.97V741.09H542.59ZM749.47 425.18H754.23V752.97H749.47ZM744.72 446.56H747.1V448.93H744.72ZM747.1 437.06H749.47V448.93H747.1ZM754.23 427.55H756.61V448.93H754.23ZM756.61 437.06H758.99V448.93H756.61ZM744.72 729.22H747.1V731.59H744.72ZM747.1 729.22H749.47V741.09H747.1ZM754.23 726.84H756.61V750.59H754.23ZM756.61 726.84H758.99V741.09H756.61ZM968.25 372.92H973.01V752.97H968.25ZM963.49 396.68H965.87V399.05H963.49ZM965.87 384.8H968.25V399.05H965.87ZM973.01 375.3H975.38V399.05H973.01ZM975.38 387.17H977.76V399.05H975.38ZM963.49 729.22H965.87V731.59H963.49ZM965.87 729.22H968.25V741.09H965.87ZM973.01 726.84H975.38V750.59H973.01ZM975.38 726.84H977.76V741.09H975.38ZM1187.03 294.54H1191.78V752.97H1187.03ZM1179.89 318.29H1182.27V320.67H1179.89ZM1182.27 306.41H1184.65V320.67H1182.27ZM1184.65 294.54H1187.03V320.67H1184.65ZM1189.4 296.91H1191.78V320.67H1189.4ZM1191.78 308.79H1194.16V320.67H1191.78ZM1179.89 729.22H1182.27V731.59H1179.89ZM1182.27 729.22H1184.65V738.72H1182.27ZM1184.65 726.84H1187.03V745.84H1184.65ZM1191.78 726.84H1194.16V750.59H1191.78ZM1194.16 726.84H1196.54V741.09H1194.16Z"/>
<path fill="#000" d="M200.16 0.0H202.53V885.99H200.16ZM200.16 0H1377V1.9H200.16ZM1374.89 0.0H1377.27V876.49H1374.89ZM183.51 866.98H1377.27V869.36H183.51ZM183.51 35.63H200.16V38.0H183.51ZM183.51 173.4H200.16V175.77H183.51ZM183.51 311.16H200.16V313.54H183.51ZM183.51 451.31H200.16V453.68H183.51ZM183.51 589.07H200.16V591.45H183.51ZM183.51 726.84H200.16V729.22H183.51ZM183.51 866.98H200.16V869.36H183.51ZM193.02 104.51H200.16V106.89H193.02ZM193.02 242.28H200.16V244.66H193.02ZM193.02 380.05H200.16V382.42H193.02ZM193.02 520.19H200.16V522.57H193.02ZM193.02 657.96H200.16V660.33H193.02ZM193.02 798.1H200.16V800.48H193.02ZM200.16 869.36H202.53V885.99H200.16ZM290.52 869.36H292.9V876.49H290.52ZM380.88 869.36H383.26V885.99H380.88ZM471.25 869.36H473.63V876.49H471.25ZM561.61 869.36H563.99V885.99H561.61ZM651.98 869.36H654.35V876.49H651.98ZM742.34 869.36H744.72V885.99H742.34ZM832.7 869.36H835.08V876.49H832.7ZM923.07 869.36H925.45V885.99H923.07ZM1013.43 869.36H1015.81V876.49H1013.43ZM1103.8 869.36H1106.17V885.99H1103.8ZM1194.16 869.36H1196.54V876.49H1194.16ZM1284.52 869.36H1286.9V885.99H1284.52Z"/>
<text x="102.5" y="42.2" font-size="33" textLength="66.0" lengthAdjust="spacing">0.05</text>
<text x="102.5" y="182.7" font-size="33" textLength="66.0" lengthAdjust="spacing">0.04</text>
<text x="102.5" y="319.6" font-size="33" textLength="66.0" lengthAdjust="spacing">0.03</text>
<text x="102.5" y="457.8" font-size="33" textLength="66.0" lengthAdjust="spacing">0.02</text>
<text x="102.5" y="598.0" font-size="33" textLength="66.0" lengthAdjust="spacing">0.01</text>
<text x="102.5" y="735.8" font-size="33" textLength="66.0" lengthAdjust="spacing">0.00</text>
<text x="91" y="873.5" font-size="33" textLength="76.5" lengthAdjust="spacing">-0.01</text>
<text x="170.8" y="924.2" font-size="33">100</text>
<text x="351.6" y="924.2" font-size="33">200</text>
<text x="532.3" y="924.2" font-size="33">300</text>
<text x="713.0" y="924.2" font-size="33">400</text>
<text x="893.8" y="924.2" font-size="33">500</text>
<text x="1074.5" y="924.2" font-size="33">600</text>
<text x="1251.7" y="924.2" font-size="33" textLength="58.5" lengthAdjust="spacing">700</text>
<text x="706.5" y="992.6" font-size="40" textLength="159.0" lengthAdjust="spacing" class="t">Time (s)</text>
<text transform="translate(31 578) rotate(-90)" font-size="40" textLength="264" lengthAdjust="spacing" class="b">Sensor output</text>
<text transform="translate(31 297.5) rotate(-90)" font-size="40" textLength="56" lengthAdjust="spacing" class="t">(V)</text>
<text transform="translate(241.5 62) scale(0.9 1)" font-size="33" textLength="256.7" lengthAdjust="spacing">Input Condition</text>
<text transform="translate(242 130) scale(0.9 1)" font-size="33" textLength="356.7" lengthAdjust="spacing">Reference: 7 Hz, 1 V</text>
<text x="565" y="151" font-size="19" textLength="29.0" lengthAdjust="spacing" class="s">PP</text>
<text x="598" y="130" font-size="33">,</text>
<text transform="translate(623.5 130) scale(0.9 1)" font-size="33" textLength="56.7" lengthAdjust="spacing">1 V</text>
<text x="677" y="154" font-size="21" textLength="80.0" lengthAdjust="spacing" class="s">Off-set</text>
<text transform="translate(242.5 206.4) scale(0.9 1)" font-size="33" textLength="395.6" lengthAdjust="spacing">Time Constant: 300 ms</text>
<text transform="translate(242.5 258) scale(0.9 1)" font-size="33" textLength="478.9" lengthAdjust="spacing">Stepwise Pulse Interval; 60s</text>
<text x="268" y="793.5" font-size="38.5" textLength="113.0" lengthAdjust="spacing" class="b">20nW</text>
<text x="482" y="793" font-size="38.5" textLength="113.0" lengthAdjust="spacing" class="b">40nW</text>
<text x="696" y="793" font-size="38.5" textLength="113.0" lengthAdjust="spacing" class="b">60nW</text>
<text x="912" y="790.5" font-size="38.5" textLength="113.0" lengthAdjust="spacing" class="b">80nW</text>
<text x="1135.5" y="795" font-size="38.5" textLength="134.0" lengthAdjust="spacing" class="b">100nW</text>
</svg></body></html>
